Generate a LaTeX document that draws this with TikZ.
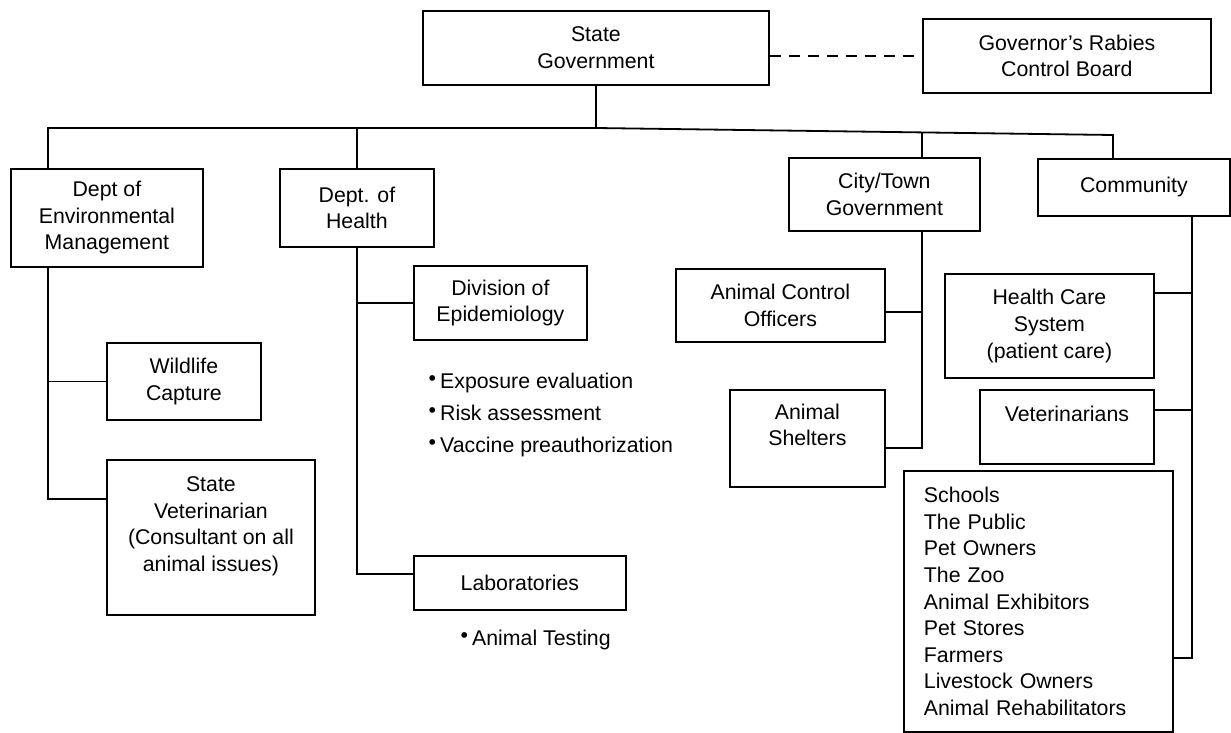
\documentclass[tikz,border=0pt]{standalone}
\usepackage{fontspec}
\setmainfont{Liberation Sans}
\usetikzlibrary{positioning}

\tikzset{
  box/.style={draw, line width=1.8pt, align=center, inner sep=2pt, anchor=north west},
  item/.style={inner sep=0pt, text height=16pt, text depth=4.5pt, anchor=west},
  link/.style={line width=1.8pt},
}
\newcommand{\bul}{\raisebox{3pt}{\textbullet}\hspace{4pt}}

\begin{document}
\begin{tikzpicture}[x=1pt, y=-1pt, node distance=10pt, font=\fontsize{21.3}{26.6}\selectfont]
		\useasboundingbox (0,0) rectangle (1231,733);

		% top level
		\node[box, minimum width=346pt, minimum height=74pt] (state) at (422,10) {State\\Government};
		\node[box, minimum width=288pt, minimum height=74pt] (gov) at (922,18) {Governor’s Rabies\\Control Board};

		% departments
		\node[box, minimum width=192pt, minimum height=98pt] (env) at (10,168) {Dept of\\Environmental\\Management};
		\node[box, minimum width=154pt, minimum height=78pt] (health) at (279,168) {Dept. of\\Health};
		\node[box, minimum width=191pt, minimum height=73pt] (city) at (788,157) {City/Town\\Government};
		\node[box, minimum width=192pt, minimum height=57pt] (comm) at (1037,158) {Community};

		% environmental management
		\node[box, minimum width=154pt, minimum height=77pt] (wild) at (106,342) {Wildlife\\Capture};
		\node[box, minimum width=208pt, minimum height=155pt, below=38pt of wild.south west, anchor=north west] (statevet) {State\\Veterinarian\\(Consultant on all\\animal issues)\\\mbox{}};

		% health
		\node[box, minimum width=173pt, minimum height=74pt] (epi) at (413,265) {Division of\\Epidemiology};
		\node[item] (expo) at (428.5,383) {\bul Exposure evaluation};
		\node[item, below=11pt of expo.south west, anchor=north west] (risk) {\bul Risk assessment};
		\node[item, below=11pt of risk.south west, anchor=north west] (vacc) {\bul Vaccine preauthorization};
		\node[box, minimum width=212pt, minimum height=54pt, below=214pt of epi.south west, anchor=north west] (labs) {Laboratories};
		\node[item] (test) at (460.5,640) {\bul Animal Testing};

		% city / town
		\node[box, minimum width=209pt, minimum height=73pt] (aco) at (675,268) {Animal Control\\Officers};
		\node[box, minimum width=155pt, minimum height=97pt, below=46pt of aco.south east, anchor=north east] (shelter) {Animal\\Shelters\\\mbox{}};

		% community
		\node[box, minimum width=209pt, minimum height=104pt] (care) at (944,273) {Health Care\\System\\(patient care)};
		\node[box, minimum width=174pt, minimum height=74pt, below=10pt of care.south east, anchor=north east] (vets) {Veterinarians\\\mbox{}};
		\node[box, minimum width=269pt, minimum height=261pt, text width=229pt, align=left, inner xsep=20pt] (public) at (903,470)
			{Schools\\The Public\\Pet Owners\\The Zoo\\Animal Exhibitors\\Pet Stores\\Farmers\\Livestock Owners\\Animal Rehabilitators};

		% bus
		\coordinate (busL) at (48,128);
		\coordinate (busM) at (state.south |- busL);
		\coordinate (busR) at (1113,135);
		\coordinate (cityJ) at (922,132.4);
		\coordinate (commJ) at ([xshift=58pt]comm.south);

		\draw[link, dash pattern=on 11pt off 8pt] (gov.west -| state.east) -- (gov.west);
		\draw[link] (state.south) -- (busM);
		\draw[link] (env.north -| busL) -- (busL) -- (busM) -- (busR) -- (comm.north -| busR);
		\draw[link] (health.north) -- (health.north |- busL);
		\draw[link] (cityJ) -- (city.north -| cityJ);

		\draw[link] (env.south -| busL) |- ([yshift=38.5pt]statevet.west);
		\draw[link] (wild.west -| busL) -- (wild.west);

		\draw[link] (health.south) |- ([yshift=9pt]labs.west);
		\draw[link] (epi.west -| health.south) -- (epi.west);

		\draw[link] (city.south -| cityJ) |- ([yshift=-9.5pt]shelter.east);
		\draw[link] ([yshift=-6.5pt]aco.east) -- ([yshift=-6.5pt]aco.east -| cityJ);

		\draw[link] (commJ) |- ([yshift=-56.5pt]public.east);
		\draw[link] ([yshift=33pt]care.east) -- ([yshift=33pt]care.east -| commJ);
		\draw[link] ([yshift=17pt]vets.east) -- ([yshift=17pt]vets.east -| commJ);
	\end{tikzpicture}
\end{document}
